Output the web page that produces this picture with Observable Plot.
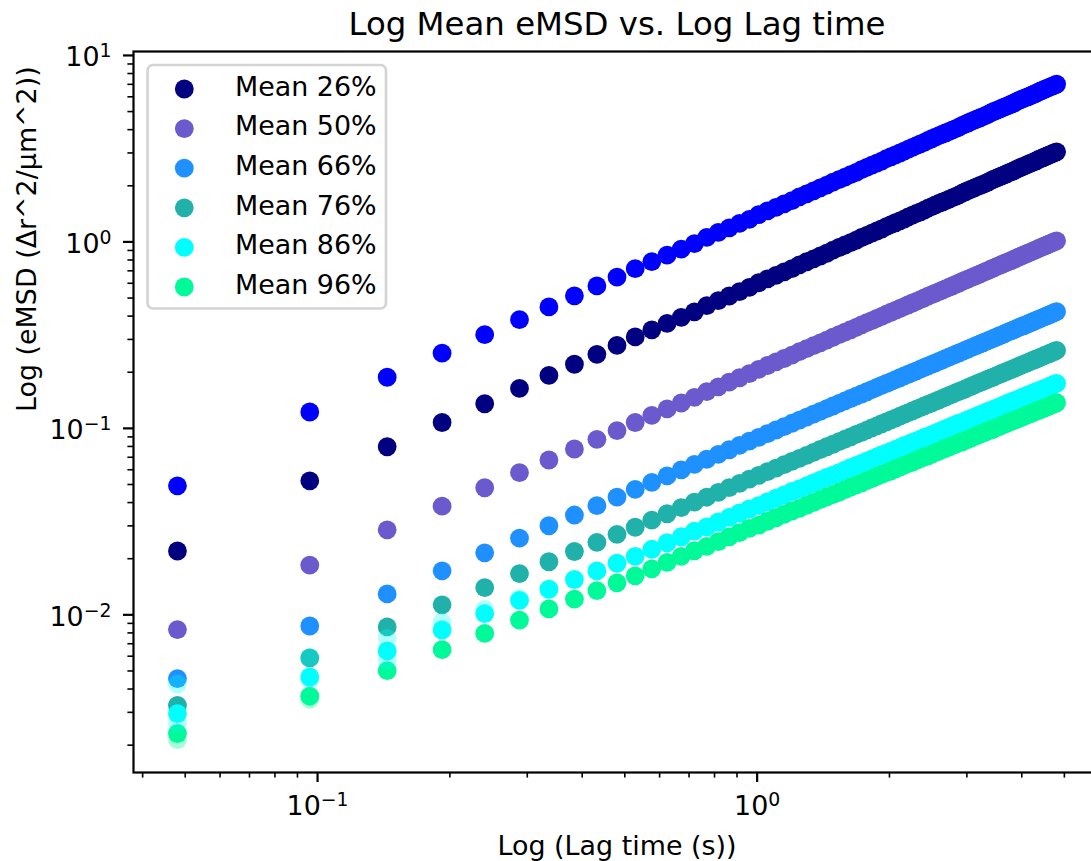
<!DOCTYPE html>
<html><head><meta charset="utf-8">
<script src="https://cdn.jsdelivr.net/npm/d3@7"></script>
<script src="https://cdn.jsdelivr.net/npm/@observablehq/plot@0.6"></script>
<style>
html,body{margin:0;padding:0;overflow:hidden;background:#fff;}
#wrap{position:relative;width:1102px;height:861px;overflow:hidden;}
#wrap svg{position:absolute;left:0;top:0;}
</style></head>
<body><div id="wrap"></div>
<script>
// ---------- data ----------
const lagTimes = [0.048,0.096,0.144,0.192,0.24,0.288,0.336,0.384,0.432,0.48,
0.528,0.576,0.624,0.672,0.72,0.768,0.816,0.864,0.912,0.96,
1.008,1.056,1.104,1.152,1.2,1.248,1.296,1.344,1.392,1.44,
1.488,1.536,1.584,1.632,1.68,1.728,1.776,1.824,1.872,1.92,
1.968,2.016,2.064,2.112,2.16,2.208,2.256,2.304,2.352,2.4,
2.448,2.496,2.544,2.592,2.64,2.688,2.736,2.784,2.832,2.88,
2.928,2.976,3.024,3.072,3.12,3.168,3.216,3.264,3.312,3.36,
3.408,3.456,3.504,3.552,3.6,3.648,3.696,3.744,3.792,3.84,
3.888,3.936,3.984,4.032,4.08,4.128,4.176,4.224,4.272,4.32,
4.368,4.416,4.464,4.512,4.56,4.608,4.656,4.704,4.752,4.8];

const emsdUnlabelled = [0.0492,0.1224,0.1880,0.2530,0.3180,0.3830,0.4480,0.5139,0.5806,0.6475,
0.7188,0.7841,0.8495,0.9148,0.9802,1.057,1.124,1.190,1.256,1.322,
1.400,1.467,1.533,1.600,1.667,1.745,1.812,1.879,1.947,2.014,
2.093,2.160,2.228,2.295,2.363,2.442,2.510,2.578,2.646,2.714,
2.794,2.862,2.930,2.998,3.066,3.146,3.215,3.283,3.352,3.420,
3.506,3.575,3.644,3.712,3.781,3.850,3.919,3.987,4.056,4.125,
4.218,4.287,4.356,4.426,4.495,4.564,4.633,4.702,4.771,4.840,
4.934,5.004,5.073,5.143,5.212,5.282,5.351,5.421,5.490,5.559,
5.654,5.723,5.793,5.863,5.933,6.003,6.072,6.142,6.212,6.282,
6.376,6.446,6.516,6.586,6.656,6.726,6.797,6.867,6.937,7.007];

const emsd26 = [0.0220,0.0523,0.0797,0.1075,0.1355,0.1638,0.1922,0.2208,0.2496,0.2784,
0.3094,0.3376,0.3657,0.3938,0.4220,0.4558,0.4843,0.5128,0.5413,0.5698,
0.6040,0.6328,0.6616,0.6903,0.7191,0.7536,0.7826,0.8116,0.8405,0.8695,
0.9043,0.9335,0.9626,0.9918,1.021,1.056,1.085,1.115,1.144,1.173,
1.208,1.238,1.267,1.297,1.326,1.362,1.391,1.421,1.450,1.480,
1.518,1.548,1.578,1.608,1.637,1.667,1.697,1.727,1.756,1.786,
1.828,1.858,1.888,1.918,1.948,1.977,2.007,2.037,2.067,2.097,
2.139,2.169,2.199,2.230,2.260,2.290,2.320,2.350,2.380,2.410,
2.452,2.483,2.513,2.543,2.573,2.604,2.634,2.664,2.694,2.725,
2.767,2.797,2.828,2.858,2.889,2.919,2.949,2.980,3.010,3.041];

const emsd50 = [0.00834,0.01846,0.02856,0.03828,0.04804,0.05784,0.06766,0.07752,0.08739,0.09729,
0.1075,0.1173,0.1271,0.1368,0.1466,0.1573,0.1671,0.1770,0.1868,0.1966,
0.2074,0.2173,0.2271,0.2370,0.2469,0.2577,0.2676,0.2775,0.2874,0.2973,
0.3081,0.3181,0.3280,0.3380,0.3479,0.3588,0.3687,0.3787,0.3886,0.3986,
0.4095,0.4195,0.4295,0.4395,0.4494,0.4603,0.4703,0.4803,0.4903,0.5004,
0.5117,0.5217,0.5318,0.5418,0.5518,0.5619,0.5719,0.5819,0.5920,0.6020,
0.6138,0.6239,0.6340,0.6440,0.6541,0.6642,0.6742,0.6843,0.6944,0.7044,
0.7163,0.7264,0.7365,0.7466,0.7567,0.7668,0.7769,0.7869,0.7970,0.8071,
0.8191,0.8292,0.8393,0.8494,0.8595,0.8696,0.8797,0.8899,0.9000,0.9101,
0.9220,0.9321,0.9423,0.9524,0.9625,0.9727,0.9828,0.9929,1.003,1.013];

const emsd66 = [0.00455,0.00871,0.01294,0.01722,0.02150,0.02577,0.03004,0.03430,0.03856,0.04282,
0.04703,0.05131,0.05558,0.05986,0.06413,0.06828,0.07254,0.07681,0.08108,0.08534,
0.08948,0.09374,0.09800,0.1023,0.1065,0.1107,0.1149,0.1192,0.1234,0.1277,
0.1318,0.1361,0.1403,0.1446,0.1488,0.1529,0.1572,0.1614,0.1657,0.1699,
0.1740,0.1783,0.1825,0.1868,0.1910,0.1951,0.1994,0.2036,0.2079,0.2121,
0.2162,0.2204,0.2246,0.2289,0.2331,0.2374,0.2416,0.2458,0.2501,0.2543,
0.2583,0.2625,0.2668,0.2710,0.2752,0.2795,0.2837,0.2879,0.2922,0.2964,
0.3004,0.3046,0.3088,0.3131,0.3173,0.3215,0.3258,0.3300,0.3342,0.3385,
0.3424,0.3467,0.3509,0.3551,0.3593,0.3636,0.3678,0.3720,0.3762,0.3805,
0.3845,0.3887,0.3929,0.3971,0.4014,0.4056,0.4098,0.4140,0.4183,0.4225];

const emsd76 = [0.00327,0.00587,0.00861,0.01132,0.01399,0.01664,0.01926,0.02186,0.02445,0.02703,
0.02949,0.03217,0.03485,0.03754,0.04022,0.04273,0.04540,0.04807,0.05074,0.05341,
0.05592,0.05858,0.06124,0.06391,0.06657,0.06907,0.07173,0.07438,0.07704,0.07970,
0.08219,0.08484,0.08749,0.09014,0.09280,0.09529,0.09793,0.1006,0.1032,0.1059,
0.1084,0.1110,0.1136,0.1163,0.1189,0.1214,0.1241,0.1267,0.1293,0.1320,
0.1344,0.1370,0.1396,0.1423,0.1449,0.1476,0.1502,0.1528,0.1555,0.1581,
0.1604,0.1630,0.1657,0.1683,0.1709,0.1736,0.1762,0.1788,0.1814,0.1841,
0.1864,0.1890,0.1916,0.1943,0.1969,0.1995,0.2021,0.2048,0.2074,0.2100,
0.2123,0.2149,0.2176,0.2202,0.2228,0.2254,0.2280,0.2307,0.2333,0.2359,
0.2382,0.2408,0.2435,0.2461,0.2487,0.2513,0.2539,0.2565,0.2592,0.2618];

const emsd86 = [0.00295,0.00464,0.00640,0.00829,0.01014,0.01194,0.01372,0.01547,0.01720,0.01891,
0.02060,0.02247,0.02435,0.02622,0.02809,0.02961,0.03146,0.03331,0.03517,0.03702,
0.03853,0.04036,0.04220,0.04403,0.04587,0.04736,0.04918,0.05101,0.05283,0.05465,
0.05614,0.05795,0.05976,0.06157,0.06338,0.06486,0.06666,0.06847,0.07027,0.07207,
0.07354,0.07534,0.07713,0.07892,0.08072,0.08218,0.08397,0.08576,0.08754,0.08933,
0.09064,0.09242,0.09420,0.09597,0.09775,0.09953,0.1013,0.1031,0.1049,0.1066,
0.1078,0.1095,0.1113,0.1131,0.1148,0.1166,0.1184,0.1201,0.1219,0.1237,
0.1248,0.1266,0.1283,0.1301,0.1318,0.1336,0.1353,0.1371,0.1389,0.1406,
0.1417,0.1435,0.1452,0.1470,0.1487,0.1505,0.1522,0.1540,0.1557,0.1575,
0.1586,0.1604,0.1621,0.1638,0.1656,0.1673,0.1691,0.1708,0.1726,0.1743];

const emsd96 = [0.00231,0.00366,0.00502,0.00650,0.00795,0.00937,0.01076,0.01214,0.01349,0.01484,
0.01618,0.01765,0.01912,0.02059,0.02206,0.02326,0.02472,0.02617,0.02763,0.02908,
0.03027,0.03172,0.03316,0.03460,0.03604,0.03722,0.03866,0.04009,0.04152,0.04295,
0.04413,0.04555,0.04698,0.04840,0.04982,0.05099,0.05241,0.05383,0.05524,0.05666,
0.05783,0.05924,0.06065,0.06206,0.06347,0.06463,0.06603,0.06744,0.06884,0.07025,
0.07129,0.07269,0.07408,0.07548,0.07688,0.07828,0.07968,0.08107,0.08247,0.08387,
0.08477,0.08616,0.08755,0.08894,0.09033,0.09172,0.09311,0.09450,0.09589,0.09728,
0.09818,0.09956,0.1009,0.1023,0.1037,0.1051,0.1065,0.1079,0.1092,0.1106,
0.1115,0.1129,0.1143,0.1157,0.1170,0.1184,0.1198,0.1212,0.1225,0.1239,
0.1248,0.1262,0.1276,0.1289,0.1303,0.1317,0.1330,0.1344,0.1358,0.1372];

// faint (semi-transparent) early points
const faintA = [0.00425,0.00592,0.00748,0.00915,0.0107,0.0122,0.0136];
const faintB = [0.00262,0.0045,0.0057];
const faintC = [0.00214,0.00352];

const legendLabels = ["Mean 26%","Mean 50%","Mean 66%","Mean 76%","Mean 86%","Mean 96%"];
const legendColors = ["#000080","#6a5acd","#1e90ff","#20b2aa","#00ffff","#00fa9a"];
const unlabelledColor = "#0000ff";

const xMajorTicks = [0.1, 1];
const xMinorTicks = [0.04,0.05,0.06,0.07,0.08,0.09,0.2,0.3,0.4,0.5,0.6,0.7,0.8,0.9,2,3,4,5,6];
const yMajorTicks = [0.01, 0.1, 1, 10];
const yMinorTicks = [0.002,0.003,0.004,0.005,0.006,0.007,0.008,0.009,0.02,0.03,0.04,0.05,0.06,0.07,0.08,0.09,0.2,0.3,0.4,0.5,0.6,0.7,0.8,0.9,2,3,4,5,6,7,8,9];

const titleText = "Log Mean eMSD vs. Log Lag time";
const xLabelText = "Log (Lag time (s))";
const yLabelText = "Log (eMSD (\u0394r^2/\u03bcm^2))";

// ---------- build ----------
const seriesList = [
  {color: unlabelledColor, values: emsdUnlabelled},
  {color: legendColors[0], values: emsd26},
  {color: legendColors[1], values: emsd50},
  {color: legendColors[2], values: emsd66},
  {color: legendColors[3], values: emsd76},
  {color: legendColors[4], values: emsd86},
  {color: legendColors[5], values: emsd96}
];
const faintList = [
  {color: "#00ffff", opacity: 0.3, values: faintA},
  {color: "#00ffff", opacity: 0.3, values: faintB},
  {color: "#00fa9a", opacity: 0.35, values: faintC}
];
const rowsOf = s => s.values.map((v, i) => ({lag: lagTimes[i], value: v}));
const expText = d => "10^" + Math.round(Math.log10(d));
const FS = 26.9;

const chart = Plot.plot({
  width: 1102, height: 861,
  marginLeft: 133, marginRight: 2, marginTop: 51, marginBottom: 89,
  style: "font-family: 'DejaVu Sans', sans-serif; max-width: none; background: white; overflow: visible;",
  x: {type: "log", domain: [0.03813, 6.0415], axis: null},
  y: {type: "log", domain: [0.001427, 10.50], axis: null},
  marks: [
    ...seriesList.map(s => Plot.dot(rowsOf(s), {x: "lag", y: "value", r: 9.4, fill: s.color})),
    ...faintList.map(s => Plot.dot(rowsOf(s), {x: "lag", y: "value", r: 9.4, fill: s.color, fillOpacity: s.opacity})),
    Plot.frame({stroke: "black", strokeWidth: 2.2}),
    Plot.axisX(xMajorTicks, {anchor: "bottom", tickSize: 10, strokeWidth: 2.2, tickFormat: () => "", label: null}),
    Plot.axisX(xMinorTicks, {anchor: "bottom", tickSize: 5.6, strokeWidth: 1.6, tickFormat: () => "", label: null}),
    Plot.axisY(yMajorTicks, {anchor: "left", tickSize: 10, strokeWidth: 2.2, tickFormat: () => "", label: null}),
    Plot.axisY(yMinorTicks, {anchor: "left", tickSize: 5.6, strokeWidth: 1.6, tickFormat: () => "", label: null}),
    Plot.text(xMajorTicks, {x: d => d, frameAnchor: "bottom", lineAnchor: "middle", dy: 33.4, text: expText, fontSize: FS, fill: "black"}),
    Plot.text(yMajorTicks, {y: d => d, frameAnchor: "left", lineAnchor: "middle", dx: -22, dy: 2.1, textAnchor: "end", text: expText, fontSize: FS, fill: "black"}),
    Plot.text([titleText], {frameAnchor: "top", lineAnchor: "middle", dy: -26.4, text: d => d, fontSize: 32.4, fill: "black"}),
    Plot.text([xLabelText], {frameAnchor: "bottom", lineAnchor: "middle", dy: 73.4, text: d => d, fontSize: FS, fill: "black"}),
    Plot.text([yLabelText], {frameAnchor: "left", lineAnchor: "middle", dx: -106, rotate: -90, text: d => d, fontSize: FS, fill: "black"})
  ]
});
document.getElementById("wrap").appendChild(chart);

// superscript exponents on tick labels
d3.select(chart).selectAll("text").filter(function() { return /^10\^/.test(this.textContent); })
  .each(function() {
    const e = this.textContent.slice(3).replace("-", "\u2212");
    this.textContent = "10";
    d3.select(this).append("tspan").attr("dy", -9).attr("font-size", "0.7em").text(e);
  });

// legend (inside the axes, upper left)
const lg = d3.select("#wrap").append("svg").attr("width", 1102).attr("height", 861)
  .style("font-family", "'DejaVu Sans', sans-serif");
lg.append("rect").attr("x", 147.5).attr("y", 65).attr("width", 238.5).attr("height", 243.5)
  .attr("rx", 5.5).attr("fill", "rgba(255,255,255,0.8)").attr("stroke", "#d4d4d4").attr("stroke-width", 2.7);
legendLabels.forEach((lab, i) => {
  const cy = 89 + 39.6 * i;
  lg.append("circle").attr("cx", 184.3).attr("cy", cy).attr("r", 9.4).attr("fill", legendColors[i]);
  lg.append("text").attr("x", 235).attr("y", cy + 6.7).attr("font-size", FS).attr("fill", "black").text(lab);
});

// sanity check
[emsdUnlabelled, emsd26, emsd50, emsd66, emsd76, emsd86, emsd96].forEach((a, i) => {
  if (a.length !== lagTimes.length) throw new Error("series " + i + " length " + a.length);
});
</script>
</body></html>
